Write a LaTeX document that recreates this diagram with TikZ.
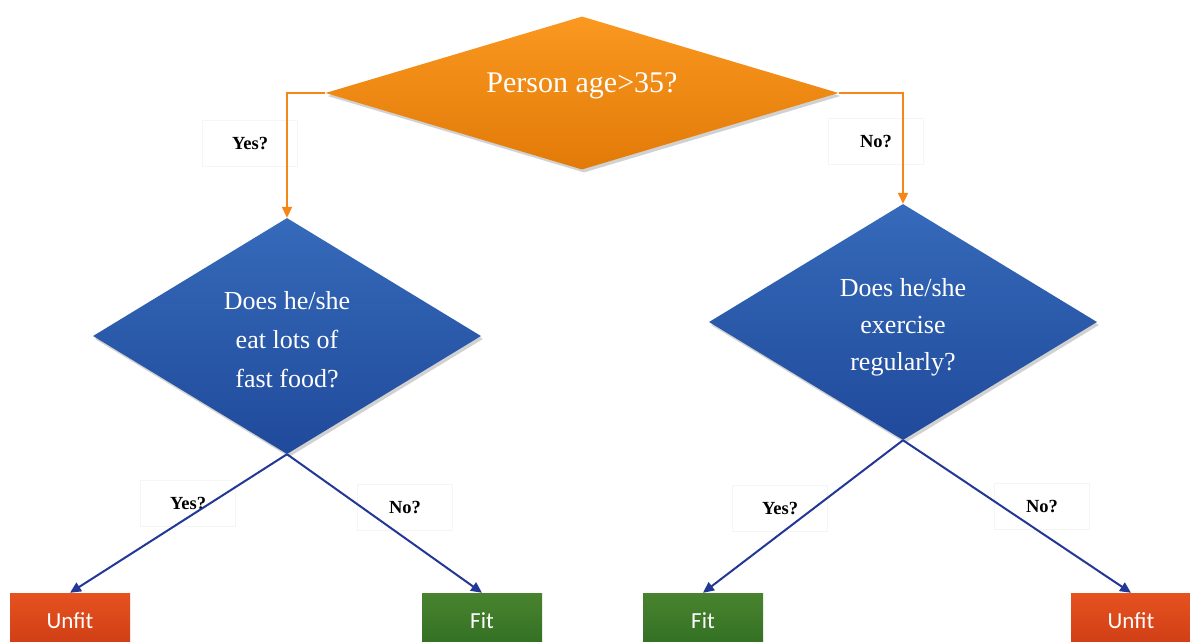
\documentclass[tikz,border=0pt]{standalone}
\usepackage{fontspec}
\setmainfont{Liberation Serif}
\newfontfamily\boxfont{Carlito}
\usetikzlibrary{shapes.geometric,arrows.meta,shadows}
\definecolor{orgA}{RGB}{250,152,32}
\definecolor{orgB}{RGB}{226,122,8}
\definecolor{orgLine}{RGB}{245,135,25}
\definecolor{blueA}{RGB}{54,106,186}
\definecolor{blueB}{RGB}{32,74,155}
\definecolor{blueLine}{RGB}{35,55,150}
\definecolor{redA}{RGB}{230,82,32}
\definecolor{redB}{RGB}{205,60,20}
\definecolor{greenA}{RGB}{72,132,46}
\definecolor{greenB}{RGB}{50,110,35}
\tikzset{
  dshadow/.style={drop shadow={shadow xshift=2pt,shadow yshift=-3pt,opacity=0.18,fill=black}},
  topdia/.style={shape=diamond,inner sep=0pt,aspect=3.35,minimum width=513pt,minimum height=153pt,
    top color=orgA,bottom color=orgB,dshadow},
  bluedia/.style={shape=diamond,inner sep=0pt,aspect=1.63,minimum width=388pt,minimum height=236pt,
    top color=blueA,bottom color=blueB,dshadow},
  diatext/.style={text=white,align=center,inner sep=0pt},
  leaf/.style={shape=rectangle,inner sep=0pt,minimum width=120pt,minimum height=56pt,text=white,
    font=\boxfont\fontsize{23}{26}\selectfont},
  unfitbox/.style={leaf,top color=redA,bottom color=redB},
  fitbox/.style={leaf,top color=greenA,bottom color=greenB},
  lbl/.style={draw=black!4,fill=white,minimum width=95pt,minimum height=46pt,inner sep=0pt,
    font=\bfseries\fontsize{18.5}{20}\selectfont},
  orgarrow/.style={draw=orgLine,line width=2pt,-{Triangle[length=11pt,width=10pt]}},
  bluearrow/.style={draw=blueLine,line width=2pt,-{Triangle[length=11pt,width=10pt]}}
}
\begin{document}
\begin{tikzpicture}[x=1pt,y=-1pt]
\useasboundingbox (0,0) rectangle (1190,641);
\clip (0,0) rectangle (1190,641);
\fill[white] (0,0) rectangle (1190,641);

% edge labels
\node[lbl] (l1) at (250,143) {Yes?};
\node[lbl] (l2) at (876,141) {No?};
\node[lbl] (l3) at (188,503) {Yes?};
\node[lbl] (l4) at (405,507) {No?};
\node[lbl] (l5) at (780,508) {Yes?};
\node[lbl] (l6) at (1042,506) {No?};

% decision nodes
\node[topdia,label={[diatext,font=\fontsize{30}{34}\selectfont,yshift=7pt]center:Person age>35?}] (top) at (582,93) {};
\node[bluedia,label={[diatext,font=\fontsize{26}{39}\selectfont,yshift=-4pt]center:Does he/she\\eat lots of\\fast food?}] (L) at (287,336) {};
\node[bluedia,label={[diatext,font=\fontsize{26}{37}\selectfont,yshift=-5pt]center:Does he/she\\exercise\\regularly?}] (R) at (903,322) {};

% leaves
\node[unfitbox] (u1) at (70,621) {Unfit};
\node[fitbox] (f1) at (482,621) {Fit};
\node[fitbox] (f2) at (703,621) {Fit};
\node[unfitbox] (u2) at (1131,621) {Unfit};

% connectors
\draw[orgarrow] (top.west) -| (L.north);
\draw[orgarrow] (top.east) -| (R.north);
\draw[bluearrow] (L.south) -- (u1.north);
\draw[bluearrow] (L.south) -- (f1.north);
\draw[bluearrow] (R.south) -- (f2.north);
\draw[bluearrow] (R.south) -- (u2.north);
\end{tikzpicture}
\end{document}
